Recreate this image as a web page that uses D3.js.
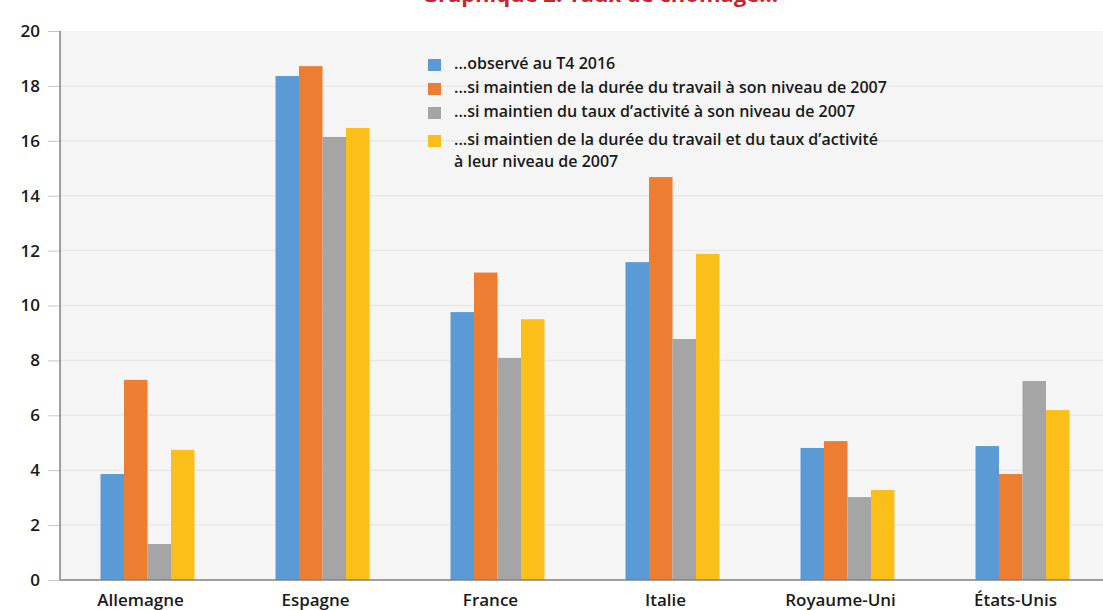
<!DOCTYPE html>
<html>
<head>
<meta charset="utf-8">
<script src="https://cdn.jsdelivr.net/npm/d3@7"></script>
<style>
  body { margin: 0; background: #fff; overflow: hidden; }
  svg { display: block; font-family: "Open Sans", sans-serif; }
</style>
</head>
<body>
<script>
// Données
const pays = ['Allemagne', 'Espagne', 'France', 'Italie', 'Royaume-Uni', 'États-Unis'];
const observe = [3.86, 18.36, 9.76, 11.58, 4.81, 4.88];
const dureeTravail = [7.29, 18.72, 11.2, 14.68, 5.06, 3.86];
const tauxActivite = [1.31, 16.14, 8.09, 8.78, 3.02, 7.25];
const dureeEtTaux = [4.74, 16.47, 9.5, 11.88, 3.28, 6.19];
const yTicks = [0, 2, 4, 6, 8, 10, 12, 14, 16, 18, 20];

const series = [
  { key: 'obs', label: ['...observé au T4 2016'], values: observe, color: '#5b9bd5' },
  { key: 'duree', label: [' ...si maintien de la durée du travail à son niveau de 2007'], values: dureeTravail, color: '#ed7d31' },
  { key: 'taux', label: ['...si maintien du taux d\u2019activité à son niveau de 2007'], values: tauxActivite, color: '#a5a5a5' },
  { key: 'both', label: ['...si maintien de la durée du travail et du taux d\u2019activité', 'à leur niveau de 2007'], values: dureeEtTaux, color: '#fcbf19' }
];

const width = 1103;
const height = 610;
const margin = { top: 31, right: -7, bottom: 30, left: 60 };

const svg = d3.select('body')
  .append('svg')
  .attr('width', width)
  .attr('height', height);

// titre (coupé en haut, comme sur l'original)
svg.append('text')
  .attr('x', 600)
  .attr('y', 2)
  .attr('text-anchor', 'middle')
  .attr('font-size', '22px')
  .attr('font-weight', 700)
  .style('fill', '#c0282d')
  .text('Graphique 2. Taux de chômage...');

// échelles
const x0 = d3.scaleBand()
  .domain(pays)
  .range([margin.left, width - margin.right])
  .paddingInner(0.463)
  .paddingOuter(0.2315);

const x1 = d3.scaleBand()
  .domain(series.map(s => s.key))
  .range([0, x0.bandwidth()]);

const y = d3.scaleLinear()
  .domain([0, 20])
  .range([height - margin.bottom, margin.top]);

// fond
svg.append('rect')
  .attr('x', margin.left)
  .attr('y', y(20))
  .attr('width', width - margin.left)
  .attr('height', y(0) - y(20))
  .style('fill', '#f5f5f5');

// grille
svg.append('g')
  .selectAll('line')
  .data(yTicks.filter(d => d > 0 && d < 20))
  .join('line')
    .attr('x1', margin.left)
    .attr('x2', width)
    .attr('y1', d => y(d))
    .attr('y2', d => y(d))
    .style('stroke', '#e8e8e8')
    .style('stroke-width', 1.5);

// axe vertical
svg.append('g')
  .attr('transform', `translate(${margin.left}, 0)`)
  .call(d3.axisLeft(y).tickValues(yTicks).tickSize(12).tickPadding(8))
  .call(g => g.select('.domain').remove())
  .call(g => g.selectAll('.tick line').style('stroke', '#c8c8c8'))
  .call(g => g.selectAll('.tick text')
    .attr('font-size', '17px')
    .attr('font-weight', 600)
    .attr('font-family', '"Open Sans", sans-serif')
    .style('fill', '#1a1a1a'));

svg.append('line')
  .attr('x1', margin.left).attr('x2', margin.left)
  .attr('y1', y(20)).attr('y2', y(0))
  .style('stroke', '#808080')
  .style('stroke-width', 1.5);

// barres
svg.append('g')
  .selectAll('g')
  .data(pays)
  .join('g')
    .attr('transform', d => `translate(${x0(d)}, 0)`)
  .selectAll('rect')
  .data((d, i) => series.map(s => ({ key: s.key, value: s.values[i], color: s.color })))
  .join('rect')
    .attr('x', d => x1(d.key))
    .attr('y', d => y(d.value))
    .attr('width', x1.bandwidth())
    .attr('height', d => y(0) - y(d.value))
    .style('fill', d => d.color);

// axe horizontal
svg.append('g')
  .attr('transform', `translate(0, ${y(0)})`)
  .call(d3.axisBottom(x0).tickSize(0).tickPadding(14))
  .call(g => g.select('.domain').remove())
  .call(g => g.selectAll('.tick text')
    .attr('dx', -7)
    .attr('font-size', '17px')
    .attr('font-weight', 600)
    .attr('font-family', '"Open Sans", sans-serif')
    .style('fill', '#1a1a1a'));

svg.append('line')
  .attr('x1', margin.left).attr('x2', width)
  .attr('y1', y(0)).attr('y2', y(0))
  .style('stroke', '#808080')
  .style('stroke-width', 1.5);

// légende
const legendY = [64, 88, 112, 140];
const legend = svg.append('g')
  .selectAll('g')
  .data(series)
  .join('g')
    .attr('transform', (d, i) => `translate(428, ${legendY[i]})`);

legend.append('rect')
  .attr('x', 0)
  .attr('y', -5)
  .attr('width', 13)
  .attr('height', 12)
  .style('fill', d => d.color);

legend.selectAll('text')
  .data(d => d.label)
  .join('text')
    .attr('x', 26)
    .attr('y', (d, i) => i * 22 + 5)
    .attr('font-size', '16px')
    .attr('font-weight', 600)
    .style('fill', '#1a1a1a')
    .text(d => d);
</script>
</body>
</html>
